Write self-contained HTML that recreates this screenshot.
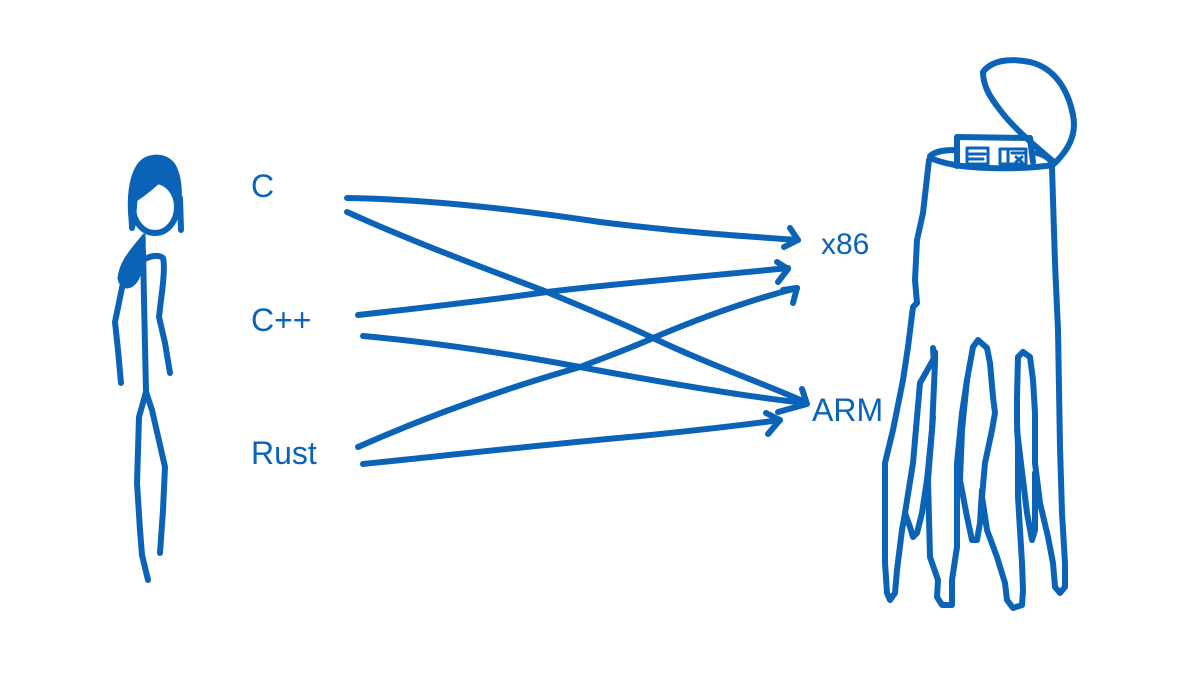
<!DOCTYPE html>
<html><head><meta charset="utf-8">
<style>
html,body{margin:0;padding:0;background:#fff;}
svg{display:block;}
text{font-family:"Liberation Sans",sans-serif;fill:#0b63b7;}
</style></head>
<body>
<svg width="1202" height="692" viewBox="0 0 1202 692" xmlns="http://www.w3.org/2000/svg">
<g fill="none" stroke="#0b63b7" stroke-width="6" stroke-linecap="round" stroke-linejoin="round">
<!-- person -->
<ellipse cx="155" cy="207" rx="22" ry="26"/>
<path d="M131,226 C127,200 130,175 140,163 C148,154 166,153 174,165 C180,175 181,190 180,204 C176,193 170,185 163,178 C155,186 145,194 136,200 L134,226 Z" fill="#0b63b7" stroke-width="3"/>
<path d="M180,198 L181,230"/>
<path d="M131,205 L132,228"/>
<path d="M144,235 C134,248 121,260 119,278 C121,290 132,290 138,278 C143,265 145,250 144,235 Z" fill="#0b63b7" stroke-width="3"/>
<path d="M143,250 L144,300 L146,392"/>
<path d="M143,260 C150,256 158,254 163,258 C165,265 163,285 161,300 L159,317 L165,343 L170,373"/>
<path d="M127,262 L123,283 L115,322 L118,350 L121,383"/>
<path d="M146,392 L139,417 L137,483 L140,530 L142,555 L148,580"/>
<path d="M146,392 L152,410 L165,467 L163,510 L160,553"/>
<!-- arrows -->
<path d="M347,198 C430,199 520,210 600,222 C680,232 740,236 798,240"/>
<path d="M790,228 L798,240 L784,247"/>
<path d="M347,212 C420,245 490,270 547,292 C580,306 620,322 653,338 C710,365 760,382 805,402"/>
<path d="M358,315 C430,307 490,300 547,292 C620,283 700,277 788,268"/>
<path d="M777,262 L788,269 L778,282"/>
<path d="M363,336 C430,342 500,352 580,367 C660,382 740,396 805,403"/>
<path d="M358,447 C430,415 500,390 580,367 C620,352 640,344 653,338 C700,318 750,300 797,288"/>
<path d="M783,290 L797,288 L793,303"/>
<path d="M363,464 C450,455 550,444 640,436 C700,430 750,424 780,420"/>
<path d="M766,413 L780,420 L768,434"/>
<path d="M802,389 L807,404 L778,412"/>
<!-- creature lid -->
<path d="M983,72 C992,60 1010,58 1030,62 C1055,68 1068,90 1073,115 C1077,135 1068,150 1055,163 C1040,150 1015,130 1000,110 C990,97 983,86 983,72 Z"/>
<!-- rim and box -->
<path d="M930,156 C936,151 945,150 955,150"/>
<path d="M957,166 L957,137 L1030,138 L1033,162"/>
<path d="M1037,153 C1045,155 1050,159 1053,164"/>
<path d="M930,158 C945,164 960,167 990,168 C1020,169 1040,167 1053,165"/>
<g stroke-width="3">
<rect x="967" y="148" width="21" height="16"/>
<path d="M969,154 L985,154 M969,159 L983,159"/>
<rect x="1000" y="149" width="26" height="15"/>
<path d="M1008,149 L1008,164 M1012,153 L1024,153 M1016,157 L1022,162 M1016,162 L1022,157"/>
</g>
<!-- body left edge -> leg1 -> tentacle A -->
<path d="M929,160 L923,213 L917,240 L915,280 L917,303 L913,307 L908,347 L903,380 L893,430 L885,463 L885,563 L887,593 L890,600 L895,593 L897,570 L902,530 L905,513 L913,463 L920,383 L933,360"/>
<path d="M933,348 L934,365"/>
<path d="M905,513 L910,527 L913,537 L917,533 L922,513 L927,480 L932,430 L935,363 L935,352"/>
<!-- leg2 .. right edge -->
<path d="M933,417 L928,480 L930,557 L938,580 L937,597 L942,605 L952,605 L952,580 L957,547 L957,463 L962,413 L967,380 L973,347 L978,340 L987,348 L990,363 L993,397 L995,413 L992,430 L985,463 L982,497 L987,530 L997,557 L1005,583 L1007,600 L1013,608 L1022,605 L1023,590 L1022,563 L1020,530 L1018,497 L1018,447 L1017,423 L1017,397 L1018,357 L1023,352 L1030,357 L1033,380 L1035,413 L1035,463 L1040,503 L1048,537 L1053,563 L1055,587 L1060,593 L1065,587 L1065,563 L1062,513 L1060,447 L1058,330 L1055,263 L1053,200 L1052,167"/>
<!-- tentacle C inner -->
<path d="M967,380 L962,430 L960,480 L967,517 L972,540 L977,540 L980,523 L982,490"/>
<!-- tentacle D inner -->
<path d="M1017,430 L1023,480 L1027,513 L1032,540 L1035,530 L1035,473"/>
</g>
<!-- labels -->
<text x="251" y="197" font-size="32">C</text>
<text x="251" y="331" font-size="32">C++</text>
<text x="251" y="464" font-size="32">Rust</text>
<text x="821" y="254" font-size="30">x86</text>
<text x="812" y="421" font-size="32">ARM</text>
</svg>
</body></html>
